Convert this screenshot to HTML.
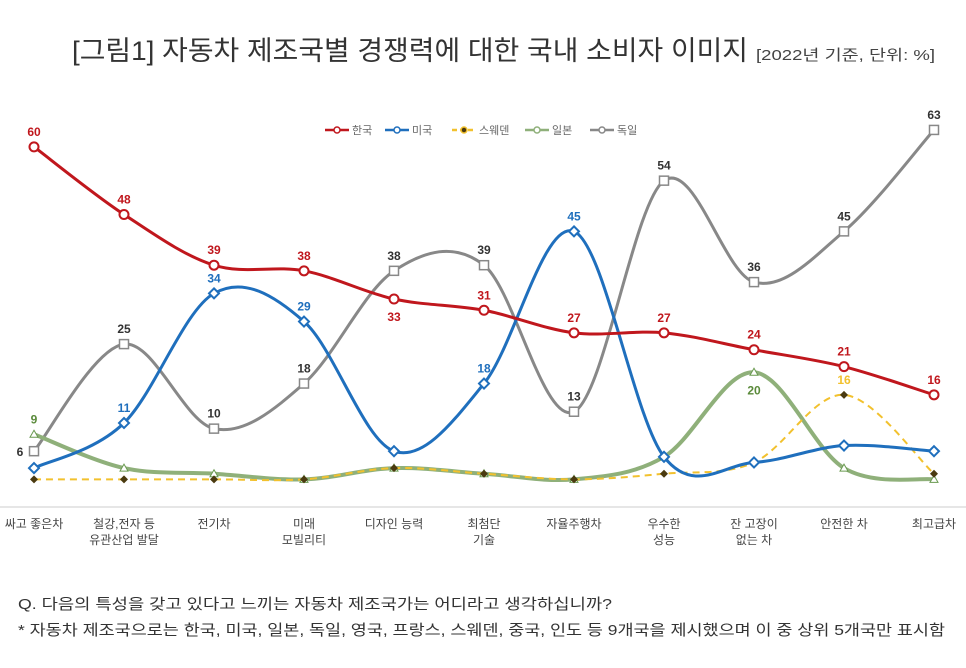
<!DOCTYPE html>
<html><head><meta charset="utf-8"><style>
body{margin:0;background:#fff;width:966px;height:663px;overflow:hidden;font-family:"Liberation Sans","Noto Sans CJK KR",sans-serif}
svg text{font-family:"Liberation Sans","Noto Sans CJK KR",sans-serif}
</style></head><body>
<svg id="c" width="966" height="663">
<text x="72" y="60" font-size="27" fill="#333" textLength="676" lengthAdjust="spacingAndGlyphs">[그림1] 자동차 제조국별 경쟁력에 대한 국내 소비자 이미지</text>
<text x="756" y="60" font-size="15" fill="#444" textLength="179" lengthAdjust="spacingAndGlyphs">[2022년 기준, 단위: %]</text>
<line x1="0" y1="507" x2="966" y2="507" stroke="#ccc"/>
<g id="legend"></g>
<g id="plot"></g>
<text x="18" y="609" font-size="15" fill="#333" textLength="594" lengthAdjust="spacingAndGlyphs">Q. 다음의 특성을 갖고 있다고 느끼는 자동차 제조국가는 어디라고 생각하십니까?</text>
<text x="18" y="635" font-size="15" fill="#333" textLength="927" lengthAdjust="spacingAndGlyphs">* 자동차 제조국으로는 한국, 미국, 일본, 독일, 영국, 프랑스, 스웨덴, 중국, 인도 등 9개국을 제시했으며 이 중 상위 5개국만 표시함</text>
</svg>
<script>
const categories=[["싸고 좋은차"],["철강,전자 등","유관산업 발달"],["전기차"],["미래","모빌리티"],["디자인 능력"],["최첨단","기술"],["자율주행차"],["우수한","성능"],["잔 고장이","없는 차"],["안전한 차"],["최고급차"]];
const korea=[60,48,39,38,33,31,27,27,24,21,16];
const usa=[3,11,34,29,6,18,45,5,4,7,6];
const sweden=[1,1,1,1,3,2,1,2,4,16,2];
const japan=[9,3,2,1,3,2,1,5,20,3,1];
const germany=[6,25,10,18,38,39,13,54,36,45,63];
const NS="http://www.w3.org/2000/svg";
const plot=document.getElementById('plot');
const xs=i=>34+i*90, ys=v=>485-v*5.636;
function el(t,a,p){const e=document.createElementNS(NS,t);for(const k in a)e.setAttribute(k,a[k]);(p||plot).appendChild(e);return e;}
function path(vals){const P=vals.map((v,i)=>[xs(i),ys(v)]);let d=`M${P[0][0]},${P[0][1]}`;const t=0.5/3*2;
for(let i=0;i<P.length-1;i++){const p0=P[i-1]||P[i],p1=P[i],p2=P[i+1],p3=P[i+2]||p2;
d+=` C${p1[0]+(p2[0]-p0[0])*t/2},${p1[1]+(p2[1]-p0[1])*t/2} ${p2[0]-(p3[0]-p1[0])*t/2},${p2[1]-(p3[1]-p1[1])*t/2} ${p2[0]},${p2[1]}`;}return d;}
categories.forEach((c,i)=>{c.forEach((l,j)=>{const t=el('text',{x:xs(i),y:528+j*16,'text-anchor':'middle','font-size':12,fill:'#444'});t.textContent=l;

});});
const series=[
{name:'germany',vals:germany,col:'#888',w:3,mk:'sq',lab:'#333',show:true},
{name:'japan',vals:japan,col:'#8fb07a',w:4,mk:'tri',lab:'#5a8a3a',show:[0,8],below:[8]},
{name:'sweden',vals:sweden,col:'#f2c12e',w:2,dash:'7,5',mk:'dot',lab:'#f2c12e',show:[9]},
{name:'usa',vals:usa,col:'#1f6fbd',w:3,mk:'dia',lab:'#1f6fbd',show:[1,2,3,5,6]},
{name:'korea',vals:korea,col:'#c0171d',w:3,mk:'circ',lab:'#c0171d',show:true,below:[4]}];
series.forEach(s=>{const p=el('path',{d:path(s.vals),fill:'none',stroke:s.col,'stroke-width':s.w});if(s.dash)p.setAttribute('stroke-dasharray',s.dash);


s.vals.forEach((v,i)=>{const x=xs(i),y=ys(v);let m;
if(s.mk=='sq')m=el('rect',{x:x-4.5,y:y-4.5,width:9,height:9,fill:'#fff',stroke:s.col,'stroke-width':1.5});
else if(s.mk=='circ')m=el('circle',{cx:x,cy:y,r:4.5,fill:'#fff',stroke:s.col,'stroke-width':2});
else if(s.mk=='dia')m=el('path',{d:`M${x},${y-5}L${x+5},${y}L${x},${y+5}L${x-5},${y}Z`,fill:'#fff',stroke:s.col,'stroke-width':2});
else if(s.mk=='tri')m=el('path',{d:`M${x},${y-4}L${x+4},${y+3}L${x-4},${y+3}Z`,fill:'#fff',stroke:'#6a9a50','stroke-width':1});
else m=el('path',{d:`M${x},${y-4}L${x+4},${y}L${x},${y+4}L${x-4},${y}Z`,fill:'#4a3a10'});


if(s.show===true||s.show.includes(i)){const b=s.below&&s.below.includes(i);
let lx=x,ly=b?y+22:y-11;if(s.name=='germany'&&i==0){lx=x-14;ly=y+5;}
const t=el('text',{x:lx,y:ly,'text-anchor':'middle','font-size':12,'font-weight':'bold',fill:s.lab});t.textContent=v;

}});});
const lg=document.getElementById('legend');
[['한국','#c0171d','circ'],['미국','#1f6fbd','dia'],['스웨덴','#f2c12e','dot'],['일본','#8fb07a','tri'],['독일','#888','sq']].forEach((e,i)=>{
const x0=[325,385,452,525,590][i];const g=el('g',{},lg);


const l=el('line',{x1:x0,y1:130,x2:x0+24,y2:130,stroke:e[1],'stroke-width':2.5},g);if(e[2]=='dot')l.setAttribute('stroke-dasharray','5,3');
el('circle',{cx:x0+12,cy:130,r:3,fill:e[2]=='dot'?'#4a3a10':'#fff',stroke:e[1],'stroke-width':1.5},g);
const t=el('text',{x:x0+27,y:134,'font-size':11,fill:'#666'},g);t.textContent=e[0];});
</script>
</body></html>
